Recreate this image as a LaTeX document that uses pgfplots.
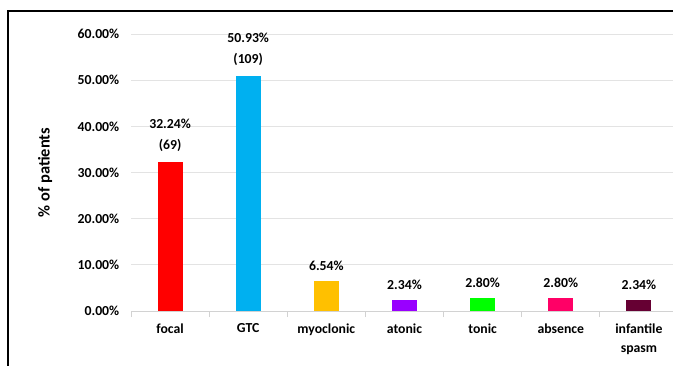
\documentclass[border=0pt]{standalone}
\usepackage{pgfplots}
\pgfplotsset{compat=1.18}
\usepackage{fontspec}
\setmainfont{Carlito}

\definecolor{cFocal}{HTML}{FF0000}
\definecolor{cGTC}{HTML}{00B0F0}
\definecolor{cMyo}{HTML}{FFC000}
\definecolor{cAtonic}{HTML}{9900FF}
\definecolor{cTonic}{HTML}{00FF00}
\definecolor{cAbsence}{HTML}{FF0066}
\definecolor{cSpasm}{HTML}{660033}

\begin{document}
\begin{tikzpicture}
\path[use as bounding box] (0,0) rectangle (673bp,-366bp);
% outer frame of the chart area
\draw[line width=2.5bp, black] (8bp,-380bp) -- (8bp,-11bp) -- (700bp,-11bp);

\begin{axis}[
  at={(131bp,-311bp)}, anchor=south west,
  scale only axis,
  width=547bp, height=277bp,
  xmin=-0.5, xmax=6.5,
  ymin=0, ymax=60,
  font=\fontsize{13.8}{19}\selectfont\bfseries,
  /pgf/number format/assume math mode=true,
  ybar, bar width=25bp, bar shift=0pt,
  axis x line*=bottom,
  axis y line*=left,
  y axis line style={draw=none},
  x axis line style={draw=gray!35, line width=1bp},
  ymajorgrids,
  grid style={draw=gray!22, line width=1bp},
  ytick={0,10,...,60},
  yticklabels={0.00\%,10.00\%,20.00\%,30.00\%,40.00\%,50.00\%,60.00\%},
  ytick style={draw=none},
  yticklabel style={xshift=-4bp},
  xtick={0,...,6},
  xticklabels={focal,GTC,myoclonic,atonic,tonic,absence,{infantile\\spasm}},
  xticklabel style={align=center, yshift=-5bp},
  major x tick style={draw=none},
  minor xtick={-0.5,0.5,...,6.5},
  minor x tick style={draw=gray!35, line width=1bp},
  minor tick length=6bp,
  tick align=outside,
  ylabel={\% of patients},
  every axis y label/.style={at={(axis description cs:-0.157,0.5)}, rotate=90, anchor=center,
    font=\fontsize{16.5}{18}\selectfont\bfseries},
  nodes near coords,
  point meta=explicit symbolic,
  every node near coord/.append style={align=center, anchor=south, yshift=7bp, black,
    font=\fontsize{13.8}{21}\selectfont\bfseries},
  clip=false,
]
\addplot[fill=cFocal, draw=none] coordinates {(0,32.24) [{32.24\%\\(69)}]};
\addplot[fill=cGTC, draw=none] coordinates {(1,50.93) [{50.93\%\\(109)}]};
\addplot[fill=cMyo, draw=none] coordinates {(2,6.54) [6.54\%]};
\addplot[fill=cAtonic, draw=none] coordinates {(3,2.34) [2.34\%]};
\addplot[fill=cTonic, draw=none] coordinates {(4,2.80) [2.80\%]};
\addplot[fill=cAbsence, draw=none] coordinates {(5,2.80) [2.80\%]};
\addplot[fill=cSpasm, draw=none] coordinates {(6,2.34) [2.34\%]};
\end{axis}
\end{tikzpicture}
\end{document}
